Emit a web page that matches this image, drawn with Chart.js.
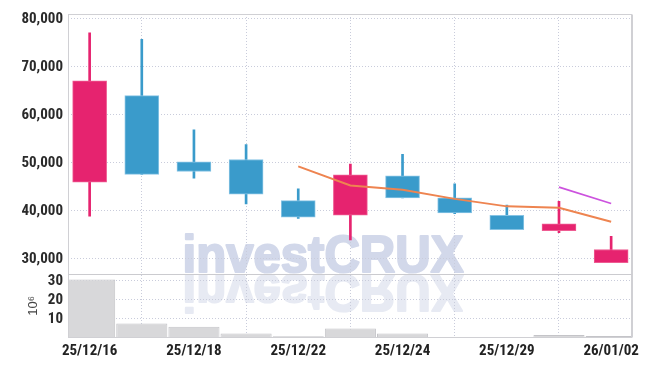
<!DOCTYPE html>
<html>
<head>
<meta charset="utf-8">
<script src="https://cdn.jsdelivr.net/npm/chart.js@4/dist/chart.umd.min.js"></script>
<style>
  html, body { margin: 0; padding: 0; background: #fff; }
</style>
</head>
<body>
<canvas id="chart" width="646" height="367"></canvas>
<script>
const dates   = ['25/12/16', '25/12/17', '25/12/18', '25/12/19', '25/12/22', '25/12/23', '25/12/24', '25/12/26', '25/12/29', '25/12/30', '26/01/02'];
const opens   = [46000, 64000, 50200, 50700, 42150, 39100, 47300, 42700, 39100, 35900, 29200];
const closes  = [67100, 47600, 48200, 43500, 38700, 47500, 42700, 39600, 36100, 37300, 31950];
const highs   = [77100, 75700, 56900, 53800, 44600, 49750, 51800, 45650, 41200, 42000, 34700];
const lows    = [38900, 47600, 46800, 41450, 38450, 33950, 42700, 39400, 36100, 35450, 29200];
const ma5     = [null, null, null, null, 49260, 45300, 44410, 42500, 40940, 40650, 37720];
const ma10    = [null, null, null, null, null, null, null, null, null, 44950, 41540];
const volumes = [30.7, 7.6, 5.9, 2.4, 0.9, 5.0, 2.4, 0.5, 0.4, 1.6, 1.1]; // x 10^6
const priceTicks = [30000, 40000, 50000, 60000, 70000, 80000];
const volTicks = [10, 20, 30];
const labelIdx = [0, 2, 4, 6, 8, 10];

const UP = '#e6236f', DOWN = '#3a9bcb';
const UP_EDGE = '#ee5c92', DOWN_EDGE = '#86c3e4';
const GRID = '#c9ccdb';
const FONT = "'Roboto Condensed', 'DejaVu Sans Condensed', sans-serif";

const isUp = i => closes[i] >= opens[i];

const decor = {
  id: 'decor',
  beforeDraw(chart) {
    // watermark + its mirror image under the price pane
    const { ctx } = chart;
    const base = chart.scales.y.bottom - 1;
    const cx = chart.width / 2;
    ctx.save();
    ctx.font = "bold 52px 'Liberation Sans', Arial, sans-serif";
    ctx.textAlign = 'center';
    ctx.textBaseline = 'alphabetic';
    ctx.lineJoin = 'round';
    ctx.lineWidth = 2.2;
    const w = ctx.measureText('investCRUX').width;
    ctx.translate(cx, base - 1);
    ctx.scale(281 / w, 1);
    ctx.fillStyle = ctx.strokeStyle = '#d2d8ea';
    ctx.fillText('investCRUX', 0, 0);
    ctx.strokeText('investCRUX', 0, 0);
    ctx.scale(1, -1);
    ctx.translate(0, -3);
    ctx.fillStyle = ctx.strokeStyle = '#e7eaf3';
    ctx.fillText('investCRUX', 0, 0);
    ctx.strokeText('investCRUX', 0, 0);
    ctx.restore();
  },
  afterDraw(chart) {
    const { ctx, chartArea: a } = chart;
    const sep = chart.scales.yVol.top;
    const L = Math.round(a.left) + 0.5, R = Math.round(a.right) - 0.5;
    const T = Math.round(a.top) + 0.5, B = Math.round(a.bottom) - 0.5;
    ctx.save();
    ctx.strokeStyle = '#d0d0d4';
    ctx.lineWidth = 1;
    ctx.strokeRect(L, T, R - L, B - T);
    ctx.beginPath();
    ctx.moveTo(R + 1, T);
    ctx.lineTo(R + 1, B);
    ctx.stroke();
    ctx.strokeStyle = '#cbcbcf';
    ctx.beginPath();
    ctx.moveTo(L, Math.round(sep) + 0.5);
    ctx.lineTo(R, Math.round(sep) + 0.5);
    ctx.stroke();
    ctx.restore();
  }
};

const tickFont = { family: FONT, size: 15, weight: 'bold' };

new Chart(document.getElementById('chart'), {
  type: 'bar',
  data: {
    datasets: [
      {
        type: 'line', label: 'MA5', yAxisID: 'y',
        data: ma5.map((v, i) => ({ x: i, y: v })),
        borderColor: '#ee8450', borderWidth: 2, pointRadius: 0, tension: 0, order: 0
      },
      {
        type: 'line', label: 'MA10', yAxisID: 'y',
        data: ma10.map((v, i) => ({ x: i, y: v })),
        borderColor: '#cc52de', borderWidth: 1.6, pointRadius: 0, tension: 0, order: 0
      },
      {
        label: 'body', yAxisID: 'y',
        data: opens.map((o, i) => ({ x: i, y: [o, closes[i]] })),
        backgroundColor: c => isUp(c.dataIndex) ? UP : DOWN,
        borderColor: c => isUp(c.dataIndex) ? UP_EDGE : DOWN_EDGE,
        borderWidth: 1, borderSkipped: false,
        barThickness: 34, grouped: false, order: 2
      },
      {
        label: 'wick', yAxisID: 'y',
        data: lows.map((l, i) => ({ x: i, y: [l, highs[i]] })),
        backgroundColor: c => isUp(c.dataIndex) ? UP : DOWN,
        barThickness: 2, grouped: false, order: 3
      },
      {
        label: 'volume', yAxisID: 'yVol',
        data: volumes.map((v, i) => ({ x: i, y: v })),
        backgroundColor: '#d8d8da',
        borderColor: '#c4c4c8',
        borderWidth: { top: 1, left: 1, right: 1, bottom: 0 },
        barPercentage: 0.98, categoryPercentage: 1, grouped: false, order: 4
      }
    ]
  },
  options: {
    responsive: false,
    animation: false,
    layout: { padding: { top: 10, right: 14, left: 0, bottom: 0 } },
    plugins: { legend: { display: false }, tooltip: { enabled: false } },
    scales: {
      x: {
        type: 'linear', min: -0.415, max: 10.4, offset: false,
        afterFit: s => { s.height = 29; },
        afterBuildTicks: s => { s.ticks = labelIdx.map(v => ({ value: v })); },
        ticks: {
          callback: v => dates[v], autoSkip: false, maxRotation: 0,
          font: { family: FONT, size: 15, weight: 'bold' }, color: '#222', padding: 4
        },
        grid: { color: GRID, drawTicks: false },
        border: { display: false, dash: [1, 2] }
      },
      yVol: {
        position: 'left', stack: 'panes', stackWeight: 65,
        min: 0, max: 33.7,
        afterFit: s => { s.width = 68; },
        afterBuildTicks: s => { s.ticks = volTicks.map(v => ({ value: v })); },
        ticks: { autoSkip: false, font: tickFont, color: '#2a2a2a', padding: 5 },
        title: {
          display: true, text: '10⁶', color: '#444',
          font: { family: "'Liberation Sans', sans-serif", size: 13 },
          padding: { top: 26, bottom: 0 }
        },
        grid: { color: GRID, drawTicks: false },
        border: { display: false, dash: [1, 2] }
      },
      y: {
        position: 'left', stack: 'panes', stackWeight: 263,
        min: 26900, max: 81000,
        afterFit: s => { s.width = 68; },
        afterBuildTicks: s => { s.ticks = priceTicks.map(v => ({ value: v })); },
        ticks: { autoSkip: false, callback: v => v.toLocaleString('en-US'), font: tickFont, color: '#2a2a2a', padding: 5 },
        grid: { color: GRID, drawTicks: false },
        border: { display: false, dash: [1, 2] }
      }
    }
  },
  plugins: [decor]
});
</script>
</body>
</html>
